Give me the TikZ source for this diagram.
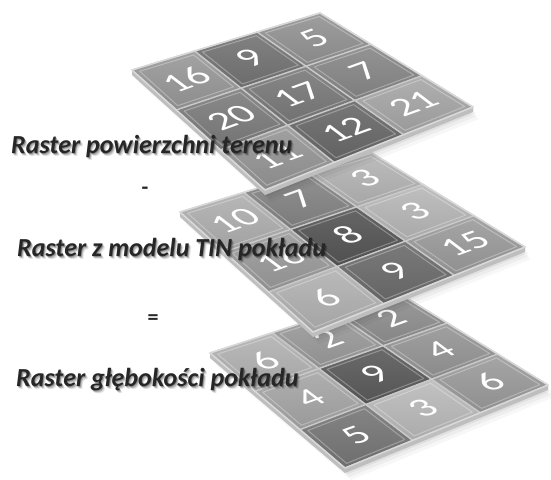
\documentclass[tikz,border=0pt]{standalone}
\usepackage{fontspec}
\setmainfont{Carlito}
\usetikzlibrary{calc}

\definecolor{labelink}{HTML}{262626}
\definecolor{slabside}{HTML}{BEBEBE}
\definecolor{cellrim}{HTML}{C9C9C9}

\tikzset{
  cellnum/.style={text=white, font=\fontsize{35}{35}\selectfont, inner sep=0pt,
    cm={1.1,0.397,-0.795,0.603,(0,0)}, transform shape},
  cellline/.style={draw=cellrim, line width=1.3pt, line join=round},
  cellbevel/.style={draw=white, opacity=0.3, line width=1pt, line join=round},
  gridedge/.style={draw=white!85!black, line width=1.4pt, line join=round},
  caption/.style={text=labelink, font=\fontsize{26}{31}\selectfont\bfseries\itshape,
    anchor=base west, inner sep=0pt},
  captionshade/.style={caption, text=black, opacity=#1},
  sign/.style={text=labelink, font=\fontsize{22}{22}\selectfont\bfseries,
    anchor=base, inner sep=0pt},
}

% #1 name prefix, #2..#5 corners (left, top, right, bottom), #6 cells i/j/black%/value
\newcommand\rastergrid[6]{%
  \coordinate (#1L) at (#2);
  \coordinate (#1T) at (#3);
  \coordinate (#1R) at (#4);
  \coordinate (#1B) at (#5);
  \foreach \i in {0,...,3}{\foreach \j in {0,...,3}{
    \coordinate (#1-\i-\j) at ($ ($(#1L)!\i/3!(#1T)$)!\j/3!($(#1B)!\i/3!(#1R)$) $);}}
  % soft drop shadow
  \foreach \s/\o in {3/0.06,6/0.05,9/0.04,12/0.03}{
    \fill[black,opacity=\o] ($(#1L)+(\s*0.5,\s)$) -- ($(#1T)+(\s*0.5,\s)$)
      -- ($(#1R)+(\s*0.5,\s)$) -- ($(#1B)+(\s*0.5,\s)$) -- cycle;}
  % slab thickness on the front faces
  \fill[slabside] (#1L) -- (#1B) -- (#1R) -- ($(#1R)+(0,5)$) -- ($(#1B)+(0,5)$)
    -- ($(#1L)+(0,5)$) -- cycle;
  % cells
  \foreach \i/\j/\k/\n [evaluate=\i as \ii using int(\i+1),
                         evaluate=\j as \jj using int(\j+1),
                         evaluate=\k as \kl using int(\k-9)] in {#6}{
    \path ($(#1-\i-\j)!0.5!(#1-\ii-\jj)$) coordinate (#1c);
    \shade[top color=black!\kl, bottom color=black!\k]
      (#1-\i-\j) -- (#1-\ii-\j) -- (#1-\ii-\jj) -- (#1-\i-\jj) -- cycle;
    \draw[cellline] (#1-\i-\j) -- (#1-\ii-\j) -- (#1-\ii-\jj) -- (#1-\i-\jj) -- cycle;
    \draw[cellbevel] ($(#1c)!0.86!(#1-\i-\j)$) -- ($(#1c)!0.86!(#1-\ii-\j)$)
      -- ($(#1c)!0.86!(#1-\ii-\jj)$) -- ($(#1c)!0.86!(#1-\i-\jj)$) -- cycle;
    \begin{scope}[shift={(#1c)}]
      \node[cellnum] (#1n-\i-\j) {\n};
    \end{scope}
  }
  \draw[gridedge] (#1L) -- (#1T) -- (#1R) -- (#1B) -- cycle;
}

% caption with a soft dark shadow
\newcommand\captiontext[3]{%
  \node[captionshade=0.10] at ($(#2)+(2.5,3)$) {#3};
  \node[captionshade=0.18] at ($(#2)+(1.5,2)$) {#3};
  \node[captionshade=0.28] at ($(#2)+(0.8,1)$) {#3};
  \node[caption] (#1) at (#2) {#3};
}

\begin{document}
\begin{tikzpicture}[x=1pt,y=-1pt]
\useasboundingbox (0,0) rectangle (551,479);
\fill[white] (0,0) rectangle (551,479);

% depth raster
\rastergrid{d}{210,353}{397,292}{548,385}{345,468}{%
  0/0/36/6, 1/0/44/2, 2/0/48/2,
  0/1/40/4, 1/1/67/9, 2/1/46/4,
  0/2/57/5, 1/2/33/3, 2/2/44/6}

% seam raster from the TIN model
\rastergrid{m}{180,212}{372,153}{525,247}{313,332}{%
  0/0/37/10, 1/0/52/7, 2/0/35/3,
  0/1/44/16, 1/1/69/8, 2/1/34/3,
  0/2/36/6,  1/2/61/9, 2/2/44/15}

% terrain surface raster
\rastergrid{s}{132,70}{320,13}{473,107}{265,190}{%
  0/0/45/16, 1/0/58/9,  2/0/47/5,
  0/1/55/20, 1/1/56/17, 2/1/51/7,
  0/2/46/11, 1/2/62/12, 2/2/40/21}

% captions and operators
\coordinate (p1) at (11,153);
\coordinate (p2) at (17,256);
\coordinate (p3) at (16,386);
\captiontext{cap1}{p1}{Raster powierzchni terenu}
\captiontext{cap2}{p2}{Raster z modelu TIN pokładu}
\captiontext{cap3}{p3}{Raster głębokości pokładu}
\node[sign] (minus) at (145,194) {-};
\node[sign] (equals) at (153,324) {=};
\end{tikzpicture}
\end{document}
